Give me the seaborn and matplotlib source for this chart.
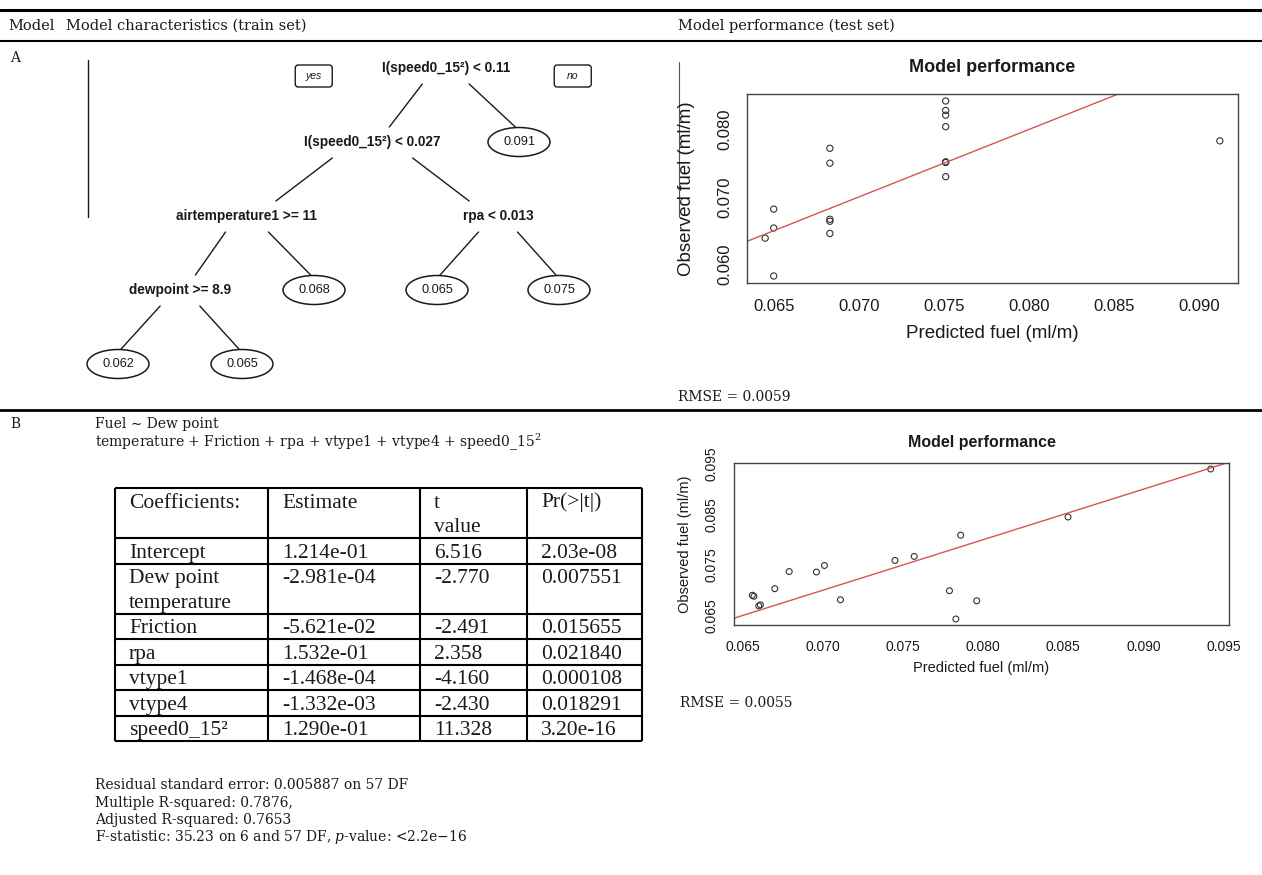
import matplotlib
matplotlib.use('Agg')
import numpy as np
import matplotlib.pyplot as plt
from matplotlib.patches import Ellipse, FancyBboxPatch
import seaborn as sns

# table header and model ids
col_titles = ['Model', 'Model characteristics (train set)', 'Model performance (test set)']
model_ids = ['A', 'B']

# model A: regression tree, rpart numbering (children of k are 2k and 2k+1)
split_nodes = {
    1: 'I(speed0_15²) < 0.11',
    2: 'I(speed0_15²) < 0.027',
    4: 'airtemperature1 >= 11',
    5: 'rpa < 0.013',
    8: 'dewpoint >= 8.9',
}
leaf_nodes = {3: '0.091', 9: '0.068', 10: '0.065', 11: '0.075', 16: '0.062', 17: '0.065'}
branch_labels = ['yes', 'no']

# model A test set
a_pred = [0.0645, 0.0650, 0.0650, 0.0650, 0.0683, 0.0683, 0.0683, 0.0683, 0.0683,
          0.0751, 0.0751, 0.0751, 0.0751, 0.0751, 0.0751, 0.0751, 0.0912]
a_obs = [0.0639, 0.0654, 0.0682, 0.0583, 0.0772, 0.0750, 0.0667, 0.0664, 0.0646,
         0.0842, 0.0828, 0.0821, 0.0804, 0.0752, 0.0751, 0.0730, 0.0783]
a_xticks = [0.065, 0.070, 0.075, 0.080, 0.085, 0.090]
a_xlabels = ['0.065', '0.070', '0.075', '0.080', '0.085', '0.090']
a_yticks = [0.060, 0.065, 0.070, 0.075, 0.080, 0.085]
a_ylabels = ['0.060', '', '0.070', '', '0.080', '']
a_rmse = 'RMSE = 0.0059'

# model B: linear model
b_formula = ['Fuel ∼ Dew point', 'temperature + Friction + rpa + vtype1 + vtype4 + speed0_15$^2$']
coef_header = ['Coefficients:', 'Estimate', 't\nvalue', 'Pr(>|t|)']
coef_terms = ['Intercept', 'Dew point\ntemperature', 'Friction', 'rpa', 'vtype1', 'vtype4', 'speed0_15²']
coef_estimate = ['1.214e-01', '-2.981e-04', '-5.621e-02', '1.532e-01', '-1.468e-04', '-1.332e-03', '1.290e-01']
coef_tvalue = ['6.516', '-2.770', '-2.491', '2.358', '-4.160', '-2.430', '11.328']
coef_pvalue = ['2.03e-08', '0.007551', '0.015655', '0.021840', '0.000108', '0.018291', '3.20e-16']
b_stats = ['Residual standard error: 0.005887 on 57 DF',
           'Multiple R-squared: 0.7876,',
           'Adjusted R-squared: 0.7653',
           'F-statistic: 35.23 on 6 and 57 DF, $p$-value: <2.2e−16']

# model B test set
b_pred = [0.0656, 0.0657, 0.0660, 0.0661, 0.0670, 0.0679, 0.0696, 0.0701, 0.0711,
          0.0745, 0.0757, 0.0779, 0.0783, 0.0786, 0.0796, 0.0853, 0.0942]
b_obs = [0.0690, 0.0688, 0.0669, 0.0671, 0.0703, 0.0737, 0.0736, 0.0749, 0.0681,
         0.0759, 0.0767, 0.0699, 0.0643, 0.0809, 0.0679, 0.0845, 0.0940]
b_xticks = [0.065, 0.070, 0.075, 0.080, 0.085, 0.090, 0.095]
b_xlabels = ['0.065', '0.070', '0.075', '0.080', '0.085', '0.090', '0.095']
b_yticks = [0.065, 0.070, 0.075, 0.080, 0.085, 0.090, 0.095]
b_ylabels = ['0.065', '', '0.075', '', '0.085', '', '0.095']
b_rmse = 'RMSE = 0.0055'

perf_title = 'Model performance'
perf_xlabel = 'Predicted fuel (ml/m)'
perf_ylabel = 'Observed fuel (ml/m)'

# style
sns.set_style('white')
plt.rcParams['mathtext.fontset'] = 'dejavuserif'
SERIF = ['DejaVu Serif']
TIMES = ['Liberation Serif', 'DejaVu Serif']
ARIAL = ['Liberation Sans', 'DejaVu Sans']
NARROW = ['Liberation Sans Narrow', 'Liberation Sans', 'DejaVu Sans']
INK = '#1a1a1a'

# layout in pixels (canvas axis is 1:1 with the image)
W, H = 1262, 875
fig = plt.figure(figsize=(W / 100, H / 100), dpi=100)
canvas = fig.add_axes([0, 0, 1, 1])
canvas.set_xlim(0, W)
canvas.set_ylim(H, 0)
canvas.axis('off')


def box_axes(left, top, right, bottom):
    return fig.add_axes([left / W, 1 - bottom / H, (right - left) / W, (bottom - top) / H])


def r_lim(v):
    lo, hi = min(v), max(v)
    pad = 0.04 * (hi - lo)
    return lo - pad, hi + pad


# rules and header
canvas.axhline(10, color='black', lw=2.2)
canvas.axhline(41, color='black', lw=1.5)
canvas.axhline(410, color='black', lw=2.0)
for x, t in zip([8, 66, 678], col_titles):
    canvas.text(x, 26, t, ha='left', va='center', fontsize=10.5, family=SERIF, color=INK)
for y, t in zip([58, 424], model_ids):
    canvas.text(10, y, t, ha='left', va='center', fontsize=10, family=SERIF, color=INK)

# ---- model A: tree
leaf_x = {16: 118, 17: 242, 9: 314, 10: 437, 11: 559, 3: 519}
tree_top, level_gap = 68, 74
node_x = dict(leaf_x)


def place(n):
    if n not in node_x:
        node_x[n] = (place(2 * n) + place(2 * n + 1)) / 2
    return node_x[n]


place(1)
all_nodes = list(split_nodes) + list(leaf_nodes)
node_y = {n: tree_top + int(np.log2(n)) * level_gap for n in all_nodes}

for n, lab in split_nodes.items():
    px, py = node_x[n], node_y[n]
    canvas.text(px, py, lab, ha='center', va='center', fontsize=9.8, weight='bold',
                family=NARROW, color=INK)
    for c in (2 * n, 2 * n + 1):
        cx, cy = node_x[c], node_y[c]
        dx = cx - px
        k = 0.05 if c in leaf_nodes else 0.23
        canvas.plot([px + 0.32 * dx, cx - k * dx], [py + 16, cy - 15], color=INK, lw=1)

for n, lab in leaf_nodes.items():
    cx, cy = node_x[n], node_y[n]
    canvas.add_patch(Ellipse((cx, cy), 62, 29, fc='white', ec=INK, lw=1.1))
    canvas.text(cx, cy, lab, ha='center', va='center', fontsize=9.2, family=NARROW, color=INK)

for off, lab in zip([-132, 127], branch_labels):
    bx, by = node_x[1] + off, tree_top + 8
    canvas.add_patch(FancyBboxPatch((bx - 18.5, by - 11), 37, 22,
                                    boxstyle='round,pad=0,rounding_size=3',
                                    fc='white', ec=INK, lw=1))
    canvas.text(bx, by, lab, ha='center', va='center', fontsize=7.5, style='italic',
                family=NARROW, color=INK)

# scan edges around the tree image
canvas.plot([88, 88], [60, 217], color=INK, lw=1)
canvas.plot([679, 679], [62, 217], color='#555555', lw=0.8)


# ---- performance scatter plots
def perf_plot(ax, pred, obs, xticks, xlabels, yticks, ylabels, fs, title_off, xlab_off, ylab_off):
    sns.scatterplot(x=pred, y=obs, ax=ax, s=fs['s'], fc='none', ec='#333333', linewidth=0.8)
    ax.axline((xticks[0], xticks[0]), slope=1, color='#d9534f', lw=1)
    ax.set_xlim(r_lim(pred))
    ax.set_ylim(r_lim(obs))
    ax.set_xticks(xticks)
    ax.set_xticklabels(xlabels, family=ARIAL, fontsize=fs['tick'], color=INK)
    ax.set_yticks(yticks)
    ax.set_yticklabels(ylabels, family=ARIAL, fontsize=fs['tick'], color=INK,
                       rotation=90, va='center')
    ax.tick_params(axis='both', length=6.5, width=0.8, color='#444444', direction='out')
    ax.tick_params(axis='x', pad=fs['xpad'])
    ax.tick_params(axis='y', pad=fs['ypad'])
    for sp in ax.spines.values():
        sp.set_visible(True)
        sp.set_color('#444444')
        sp.set_linewidth(1)
    ax.text(0.5, 1 + title_off, perf_title, transform=ax.transAxes, ha='center', va='center',
            fontsize=fs['title'], weight='bold', family=ARIAL, color=INK)
    ax.set_xlabel(perf_xlabel, family=ARIAL, fontsize=fs['label'], color=INK)
    ax.set_ylabel(perf_ylabel, family=ARIAL, fontsize=fs['label'], color=INK)
    ax.xaxis.label.set_va('center')
    ax.yaxis.label.set_va('center')
    ax.xaxis.set_label_coords(0.5, xlab_off)
    ax.yaxis.set_label_coords(ylab_off, 0.5)


ax_a = box_axes(747, 94, 1238, 283)
perf_plot(ax_a, a_pred, a_obs, a_xticks, a_xlabels, a_yticks, a_ylabels,
          dict(s=20, tick=12, title=13, label=13.5, xpad=5, ypad=4),
          27 / 189, -50 / 189, -61 / 491)
canvas.text(678, 397, a_rmse, ha='left', va='center', fontsize=10, family=SERIF, color=INK)

ax_b = box_axes(734, 463, 1229, 625)
perf_plot(ax_b, b_pred, b_obs, b_xticks, b_xlabels, b_yticks, b_ylabels,
          dict(s=18, tick=10, title=11.5, label=10.5, xpad=4, ypad=5),
          21 / 162, -43 / 162, -49 / 495)
canvas.text(680, 703, b_rmse, ha='left', va='center', fontsize=10, family=SERIF, color=INK)

# ---- model B: formula, coefficient table, fit statistics
for i, line in enumerate(b_formula):
    canvas.text(95, 424 + i * 18, line, ha='left', va='center', fontsize=10, family=SERIF, color=INK)

col_edges = [115, 268, 420, 527, 642]
tbl_top, line_h, row_h = 488, 24.7, 25.5
rows = [coef_header] + [list(r) for r in zip(coef_terms, coef_estimate, coef_tvalue, coef_pvalue)]
row_edges = [tbl_top]
y = tbl_top
for row in rows:
    n_lines = max(c.count('\n') + 1 for c in row)
    for j, cell in enumerate(row):
        for k, line in enumerate(cell.split('\n')):
            canvas.text(col_edges[j] + 14, y + 19.5 + k * line_h, line, ha='left', va='baseline',
                        fontsize=15.5, family=TIMES, color=INK)
    y += row_h + (n_lines - 1) * line_h
    row_edges.append(y)
canvas.hlines(row_edges, col_edges[0], col_edges[-1], color='black', lw=1.5)
canvas.vlines(col_edges, row_edges[0], row_edges[-1], color='black', lw=1.5)

for i, line in enumerate(b_stats):
    canvas.text(95, 785 + i * 17.5, line, ha='left', va='center', fontsize=10, family=SERIF, color=INK)

plt.savefig('out.png', dpi=100)
